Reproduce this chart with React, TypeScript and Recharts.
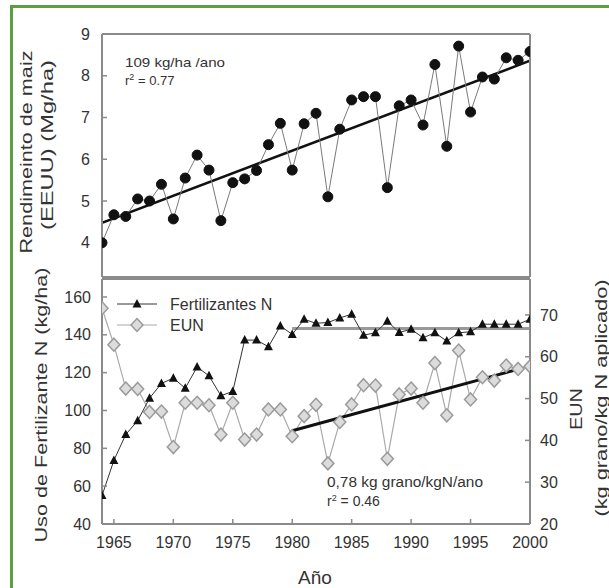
import React from "react";
import { ComposedChart, Line, XAxis, YAxis, Legend } from "recharts";

// Años 1964–2000
const years = [
  1964, 1965, 1966, 1967, 1968, 1969, 1970, 1971, 1972, 1973, 1974, 1975, 1976,
  1977, 1978, 1979, 1980, 1981, 1982, 1983, 1984, 1985, 1986, 1987, 1988, 1989,
  1990, 1991, 1992, 1993, 1994, 1995, 1996, 1997, 1998, 1999, 2000,
];

// Rendimiento de maíz (Mg/ha)
const yieldMg = [
  4.0, 4.67, 4.63, 5.05, 5.0, 5.4, 4.57, 5.55, 6.1, 5.74, 4.53, 5.44, 5.53,
  5.73, 6.35, 6.86, 5.74, 6.85, 7.1, 5.1, 6.72, 7.42, 7.5, 7.5, 5.32, 7.28,
  7.42, 6.82, 8.27, 6.31, 8.71, 7.13, 7.97, 7.92, 8.43, 8.37, 8.58,
];

// Fertilizante N (kg/ha)
const fertN = [
  55, 73.6, 87.3, 94.6, 106.5, 114.3, 117.1, 111.8, 123.0, 118.3, 107.8, 110.1,
  137.2, 137.2, 133.7, 144.7, 140.2, 148.2, 146.1, 146.5, 148.9, 150.9, 139.8,
  141.1, 147.2, 141.2, 143.0, 138.4, 141.1, 136.7, 141.1, 141.6, 145.6, 145.6,
  145.6, 145.6, 148.2,
];

// EUN (kg grano/kg N aplicado)
const eun = [
  71.6, 62.9, 52.4, 52.3, 46.8, 46.9, 38.4, 49.0, 49.0, 48.4, 41.4, 49.0, 40.2,
  41.4, 47.4, 47.4, 41.0, 45.8, 48.5, 34.5, 44.4, 48.6, 53.2, 53.1, 35.6, 51.0,
  52.4, 49.0, 58.5, 46.0, 61.5, 49.8, 55.1, 54.3, 57.9, 57.1, 57.7,
];

// líneas de tendencia (extremos)
const yieldTrendYears = [1964, 2000];
const yieldTrend = [4.48, 8.36];
const fertTrendYears = [1980, 2000];
const fertTrend = [143.4, 143.4];
const eunTrendYears = [1980, 1999];
const eunTrend = [42.3, 57.0];

const xTicks = [1965, 1970, 1975, 1980, 1985, 1990, 1995, 2000];
const yieldTicks = [4, 5, 6, 7, 8, 9];
const fertTicks = [40, 60, 80, 100, 120, 140, 160];
const eunTicks = [20, 30, 40, 50, 60, 70];

const topData = years.map((year, i) => ({ year, yield: yieldMg[i] }));
const bottomData = years.map((year, i) => ({ year, fert: fertN[i], eun: eun[i] }));
const yieldTrendData = yieldTrendYears.map((year, i) => ({ year, value: yieldTrend[i] }));
const fertTrendData = fertTrendYears.map((year, i) => ({ year, value: fertTrend[i] }));
const eunTrendData = eunTrendYears.map((year, i) => ({ year, value: eunTrend[i] }));

const AXIS = "#8a8a8a";
const TEXT = "#333";
const FONT = "'Liberation Sans', Arial, sans-serif";
const tickStyle = { fill: TEXT, fontSize: 16, fontFamily: FONT };
const axisLine = { stroke: AXIS, strokeWidth: 2 };
const tickLine = { stroke: AXIS, strokeWidth: 1.5 };

const Triangle = (props: any) => {
  const { cx, cy, index } = props;
  if (cx == null || cy == null) return <g key={`t${index}`} />;
  return (
    <path
      key={`t${index}`}
      d={`M${cx},${cy - 5} L${cx + 4.5},${cy + 3.5} L${cx - 4.5},${cy + 3.5} Z`}
      fill="#111"
    />
  );
};

const Diamond = (props: any) => {
  const { cx, cy, index } = props;
  if (cx == null || cy == null) return <g key={`d${index}`} />;
  return (
    <path
      key={`d${index}`}
      d={`M${cx},${cy - 6.5} L${cx + 6},${cy} L${cx},${cy + 6.5} L${cx - 6},${cy} Z`}
      fill="#dcdcdc"
      stroke="#9a9a9a"
      strokeWidth={1.5}
    />
  );
};

const renderLegend = () => (
  <svg width={200} height={44} style={{ overflow: "visible" }}>
    <line x1={7} x2={47} y1={12} y2={12} stroke="#333" strokeWidth={1} />
    <Triangle cx={27} cy={12} index={0} />
    <text x={60} y={12} dominantBaseline="central" fontSize={16} fontFamily={FONT} fill={TEXT}>
      Fertilizantes N
    </text>
    <line x1={7} x2={47} y1={33} y2={33} stroke="#aaa" strokeWidth={1.2} />
    <Diamond cx={27} cy={33} index={1} />
    <text x={60} y={33} dominantBaseline="central" fontSize={16} fontFamily={FONT} fill={TEXT}>
      EUN
    </text>
  </svg>
);

const VLabel = ({ cx, cy, len, size = 17, children }: any) => (
  <text
    transform={`translate(${cx},${cy}) rotate(-90)`}
    textAnchor="middle"
    dominantBaseline="central"
    fontSize={size}
    fontFamily={FONT}
    fill={TEXT}
    textLength={len}
    lengthAdjust="spacingAndGlyphs"
  >
    {children}
  </text>
);

export default function App() {
  return (
    <div style={{ position: "relative", width: 609, height: 588, background: "#fff" }}>
      <style>{`body{margin:0}`}</style>
      <div
        style={{
          position: "absolute",
          left: 10,
          top: 5,
          width: 599,
          height: 583,
          borderTop: "3px solid #5c9e42",
          borderLeft: "3px solid #5c9e42",
          boxSizing: "border-box",
        }}
      />

      <div style={{ position: "absolute", left: 0, top: 0 }}>
        <ComposedChart width={609} height={300} data={topData} margin={{ top: 4, right: 0, bottom: 0, left: 0 }}>
          <XAxis xAxisId="bottom" dataKey="year" type="number" domain={[1964, 2000]} ticks={xTicks}
            interval={0} allowDataOverflow height={23} tickSize={-5} tick={false}
            axisLine={axisLine} tickLine={tickLine} />
          <XAxis xAxisId="top" orientation="top" dataKey="year" type="number" domain={[1964, 2000]}
            ticks={xTicks} interval={0} allowDataOverflow height={30} tickSize={-5} tick={false}
            axisLine={axisLine} tickLine={tickLine} />
          <YAxis yAxisId="left" type="number" domain={[3.18, 9]} ticks={yieldTicks} interval={0}
            allowDataOverflow width={102} tickSize={-5} tickMargin={17} tick={tickStyle}
            axisLine={axisLine} tickLine={tickLine} />
          <YAxis yAxisId="right" orientation="right" type="number" domain={[3.18, 9]} allowDataOverflow
            width={79} tick={false} tickLine={false} axisLine={axisLine} />
          <Line xAxisId="top" yAxisId="right" data={yieldTrendData} dataKey="value" stroke="#111"
            strokeWidth={2.5} dot={false} isAnimationActive={false} />
          <Line xAxisId="bottom" yAxisId="left" dataKey="yield" type="linear" stroke="#7a7a7a"
            strokeWidth={1} dot={{ r: 5, fill: "#111", stroke: "#111", strokeWidth: 1 }}
            isAnimationActive={false} />
        </ComposedChart>
      </div>

      <div style={{ position: "absolute", left: 0, top: 0 }}>
        <ComposedChart width={609} height={588} data={bottomData} margin={{ top: 249, right: 0, bottom: 0, left: 0 }}>
          <XAxis xAxisId="bottom" dataKey="year" type="number" domain={[1964, 2000]} ticks={xTicks}
            interval={0} allowDataOverflow height={64} tickSize={-5} tickMargin={18} tick={tickStyle}
            axisLine={axisLine} tickLine={tickLine} />
          <XAxis xAxisId="top" orientation="top" dataKey="year" type="number" domain={[1964, 2000]}
            ticks={xTicks} interval={0} allowDataOverflow height={30} tickSize={-5} tick={false}
            axisLine={axisLine} tickLine={tickLine} />
          <YAxis yAxisId="left" type="number" domain={[40, 169.5]} ticks={fertTicks} interval={0}
            allowDataOverflow width={102} tickSize={-5} tickMargin={16} tick={tickStyle}
            axisLine={axisLine} tickLine={tickLine} />
          <YAxis yAxisId="right" orientation="right" type="number" domain={[20, 78.6]} ticks={eunTicks}
            interval={0} allowDataOverflow width={79} tickSize={-5} tickMargin={15} tick={tickStyle}
            axisLine={axisLine} tickLine={tickLine} />
          <Legend layout="vertical" align="center" verticalAlign="middle" content={renderLegend}
            wrapperStyle={{ left: 110, top: 292, width: 200, height: 44 }} />
          <Line xAxisId="bottom" yAxisId="right" dataKey="eun" type="linear" stroke="#aaa"
            strokeWidth={1.2} dot={Diamond} isAnimationActive={false} />
          <Line xAxisId="top" yAxisId="right" data={eunTrendData} dataKey="value" stroke="#111"
            strokeWidth={3} dot={false} isAnimationActive={false} />
          <Line xAxisId="top" yAxisId="left" data={fertTrendData} dataKey="value" stroke="#999"
            strokeWidth={3} dot={false} isAnimationActive={false} />
          <Line xAxisId="bottom" yAxisId="left" dataKey="fert" type="linear" stroke="#333"
            strokeWidth={1} dot={Triangle} isAnimationActive={false} />
        </ComposedChart>
      </div>

      <svg width={609} height={588} style={{ position: "absolute", left: 0, top: 0, pointerEvents: "none" }}>
        <VLabel cx={26} cy={152} len={203}>Rendimeinto de maiz</VLabel>
        <VLabel cx={47} cy={145} len={170}>(EEUU) (Mg/ha)</VLabel>
        <VLabel cx={41} cy={405} len={275}>Uso de Fertilizante N (kg/ha)</VLabel>
        <VLabel cx={576} cy={409} len={42}>EUN</VLabel>
        <VLabel cx={601} cy={398} len={237} size={16}>(kg grano/kg N aplicado)</VLabel>
        <text x={315} y={577} textAnchor="middle" dominantBaseline="central" fontSize={19}
          fontFamily={FONT} fill={TEXT}>Año</text>
        <text x={125} y={67} fontSize={13} fontFamily={FONT} fill={TEXT} textLength={100}
          lengthAdjust="spacingAndGlyphs">109 kg/ha /ano</text>
        <text x={125} y={85} fontSize={13} fontFamily={FONT} fill={TEXT}>
          r<tspan dy={-5} fontSize={9}>2</tspan><tspan dy={5}> = 0.77</tspan>
        </text>
        <text x={327} y={487} fontSize={14} fontFamily={FONT} fill={TEXT} textLength={156}
          lengthAdjust="spacingAndGlyphs">0,78 kg grano/kgN/ano</text>
        <text x={327} y={506} fontSize={14} fontFamily={FONT} fill={TEXT}>
          r<tspan dy={-5} fontSize={9}>2</tspan><tspan dy={5}> = 0.46</tspan>
        </text>
      </svg>
    </div>
  );
}
